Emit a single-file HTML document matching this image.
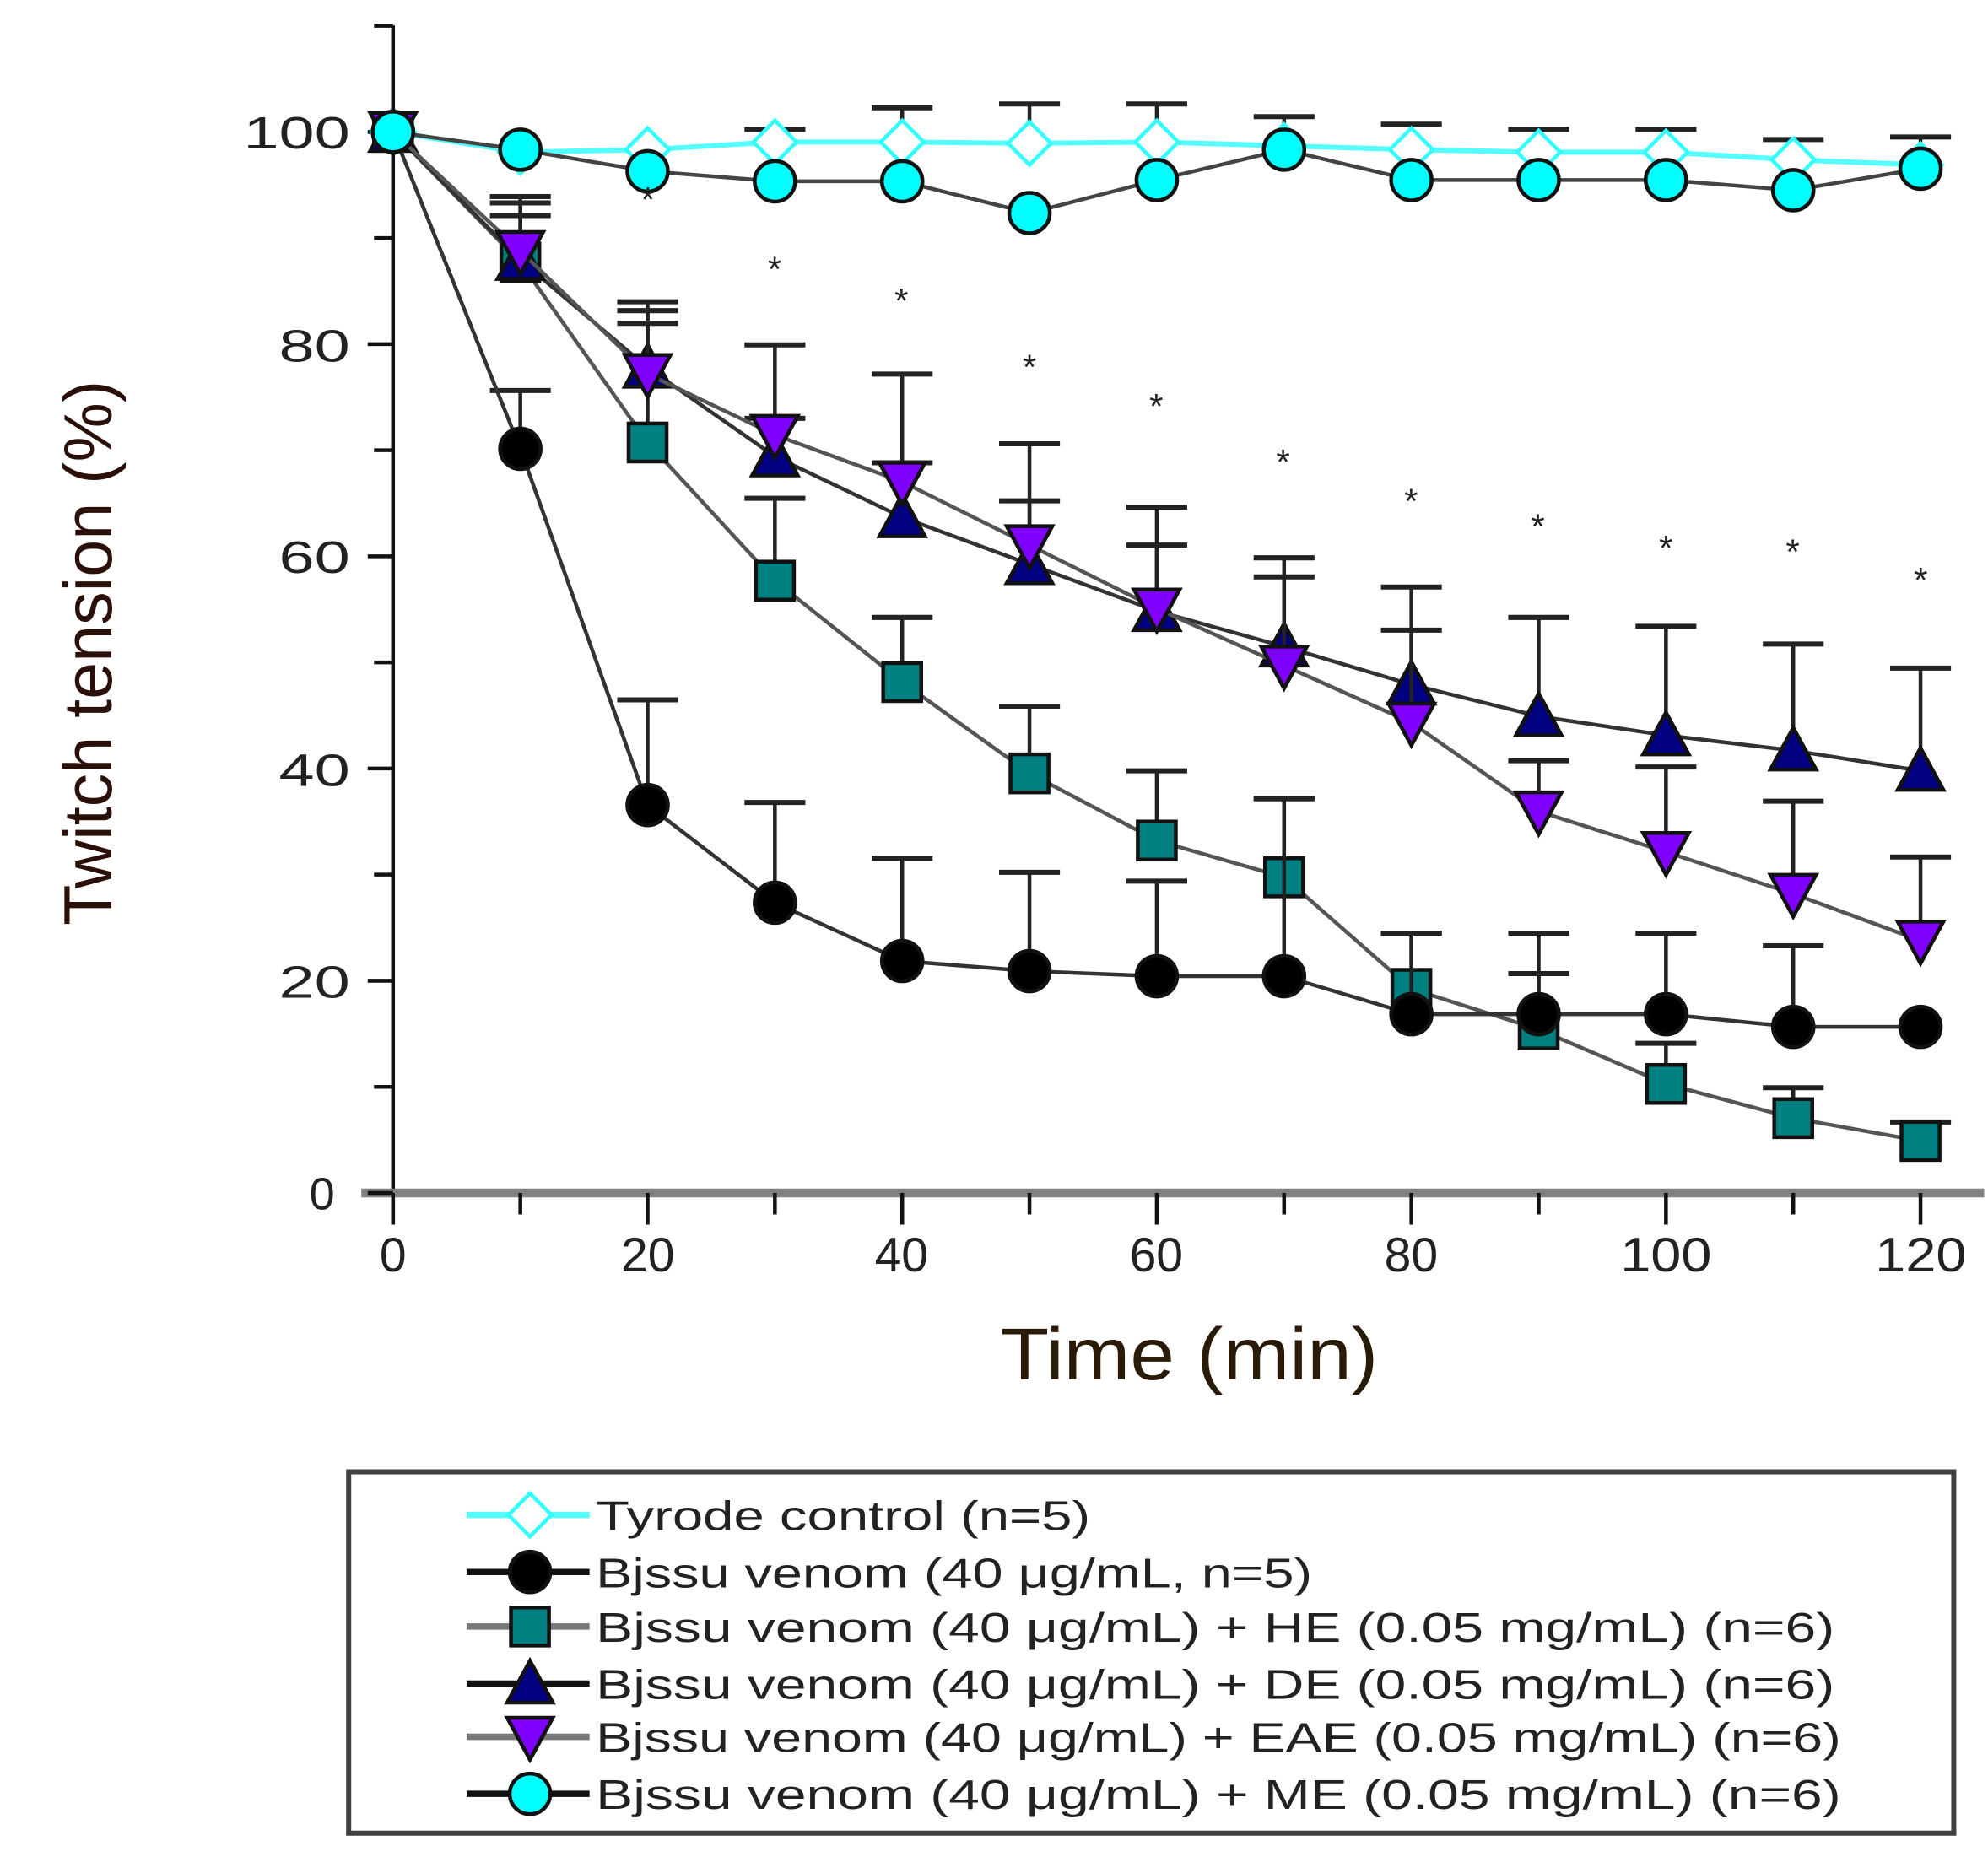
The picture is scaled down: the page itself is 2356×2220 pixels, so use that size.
<!DOCTYPE html>
<html><head><meta charset="utf-8"><style>html,body{margin:0;padding:0;background:#fff}svg{display:block}</style></head>
<body>
<svg id="s" xmlns="http://www.w3.org/2000/svg" width="2356" height="2220" viewBox="0 0 1568 1477.4" font-family="Liberation Sans, Arial, sans-serif">
<rect width="1568" height="1478" fill="#fff"/>
<line x1="310" y1="20" x2="310" y2="966" stroke="#111" stroke-width="3"/>
<line x1="285" y1="941" x2="1565" y2="941" stroke="#808080" stroke-width="7"/>
<g stroke="#111" stroke-width="3" id="ticks"></g>
<g font-size="36" fill="#222" text-anchor="end">
<text x="276" y="117" textLength="84" lengthAdjust="spacingAndGlyphs">100</text><text x="276" y="285" textLength="56" lengthAdjust="spacingAndGlyphs">80</text><text x="276" y="452" textLength="56" lengthAdjust="spacingAndGlyphs">60</text><text x="276" y="620" textLength="56" lengthAdjust="spacingAndGlyphs">40</text><text x="276" y="787" textLength="56" lengthAdjust="spacingAndGlyphs">20</text><text x="264" y="954">0</text>
</g>
<g font-size="38" fill="#222" text-anchor="middle">
<text x="310" y="1003">0</text><text x="511" y="1003">20</text><text x="711" y="1003">40</text><text x="912" y="1003">60</text><text x="1113" y="1003">80</text><text x="1314" y="1003" textLength="72" lengthAdjust="spacingAndGlyphs">100</text><text x="1515" y="1003" textLength="72" lengthAdjust="spacingAndGlyphs">120</text>
</g>
<text x="938" y="1088" font-size="58" fill="#2a1a08" text-anchor="middle" textLength="298" lengthAdjust="spacingAndGlyphs">Time (min)</text>
<text transform="translate(88,515) rotate(-90)" font-size="54" fill="#2a1008" text-anchor="middle" textLength="430" lengthAdjust="spacingAndGlyphs">Twitch tension (%)</text>
<g id="plot"></g>
<g font-size="28" fill="#222" text-anchor="middle">
<text x="511" y="167">*</text><text x="611" y="222">*</text><text x="711" y="247">*</text><text x="812" y="299">*</text><text x="912" y="330">*</text><text x="1012" y="374">*</text><text x="1113" y="405">*</text><text x="1213" y="425">*</text><text x="1314" y="442">*</text><text x="1414" y="445">*</text><text x="1515" y="467">*</text>
</g>
<rect x="275" y="1161" width="1266" height="285" fill="none" stroke="#404040" stroke-width="4"/>
<g id="leg"></g>
<g font-size="33" fill="#222">
<text x="470" y="1207" textLength="390" lengthAdjust="spacingAndGlyphs">Tyrode control (n=5)</text>
<text x="470" y="1252" textLength="565" lengthAdjust="spacingAndGlyphs">Bjssu venom (40 μg/mL, n=5)</text>
<text x="470" y="1295" textLength="977" lengthAdjust="spacingAndGlyphs">Bjssu venom (40 μg/mL) + HE   (0.05 mg/mL) (n=6)</text>
<text x="470" y="1340" textLength="977" lengthAdjust="spacingAndGlyphs">Bjssu venom (40 μg/mL) + DE   (0.05 mg/mL) (n=6)</text>
<text x="470" y="1382" textLength="982" lengthAdjust="spacingAndGlyphs">Bjssu venom (40 μg/mL) + EAE (0.05 mg/mL) (n=6)</text>
<text x="470" y="1427" textLength="982" lengthAdjust="spacingAndGlyphs">Bjssu venom (40 μg/mL) + ME   (0.05 mg/mL) (n=6)</text>
</g>
</svg>
<script>
var NS="http://www.w3.org/2000/svg";
function el(p,t,a){var e=document.createElementNS(NS,t);for(var k in a)e.setAttribute(k,a[k]);p.appendChild(e);return e;}
var tk=document.getElementById('ticks'),pl=document.getElementById('plot'),lg=document.getElementById('leg');
function X(t){return 310+t*10.04;}
for(var i=0;i<=11;i++){var y=941-i*83.7;el(tk,'line',{x1:i%2?295:290,y1:y,x2:310,y2:y});}
for(var t=0;t<=120;t+=10){el(tk,'line',{x1:X(t),y1:941,x2:X(t),y2:t%20?958:966});}
var T=[0,10,20,30,40,50,60,70,80,90,100,110,120];
var S=[
 {y:[104,120,118,112,112,113,112,115,118,120,120,126,130],e:[null,null,null,102,85,82,82,92,98,102,102,110,108],m:'di',f:'#fff',lc:'#5ff'},
 {y:[104,207,349,458,538,610,663,692,780,812,855,882,900],e:[null,160,245,393,487,557,608,630,736,768,823,858,885],m:'sq',f:'#008080',lc:'#555'},
 {y:[104,205,290,360,408,445,482,510,540,565,580,592,608],e:[null,155,238,272,295,350,400,440,463,487,494,508,527],m:'up',f:'#000080',lc:'#333'},
 {y:[104,198,295,343,380,430,480,525,570,640,672,705,742],e:[null,170,255,330,365,395,430,455,497,600,605,632,676],m:'dn',f:'#7f00ff',lc:'#555'},
 {y:[104,354,635,712,758,766,770,770,800,800,800,810,810],e:[null,308,552,633,677,688,695,630,736,736,736,746,null],m:'ci',f:'#000',lc:'#333'},
 {y:[104,118,135,143,143,168,142,118,142,142,142,150,133],e:[null,null,null,null,null,null,null,null,null,null,null,null,null],m:'ci',f:'#00ffff',lc:'#444'}
];
function mk(g,m,x,y,f){
 var st={fill:f,stroke:m=='di'?'#3ff':'#111','stroke-width':3};
 if(m=='sq')el(g,'rect',Object.assign({x:x-15,y:y-15,width:30,height:30},st));
 else if(m=='ci')el(g,'circle',Object.assign({cx:x,cy:y,r:16},st));
 else if(m=='up')el(g,'polygon',Object.assign({points:(x-18)+','+(y+15)+' '+(x+18)+','+(y+15)+' '+x+','+(y-18)},st));
 else if(m=='dn')el(g,'polygon',Object.assign({points:(x-18)+','+(y-15)+' '+(x+18)+','+(y-15)+' '+x+','+(y+18)},st));
 else el(g,'polygon',Object.assign({points:x+','+(y-17)+' '+(x+17)+','+y+' '+x+','+(y+17)+' '+(x-17)+','+y},st));
}
S.forEach(function(s){
 var g=el(pl,'g',{});
 s.e.forEach(function(e,i){if(e!=null){var x=X(T[i]);el(g,'line',{x1:x,y1:s.y[i],x2:x,y2:e,stroke:'#222','stroke-width':3});el(g,'line',{x1:x-24,y1:e,x2:x+24,y2:e,stroke:'#222','stroke-width':4});}});
 var pts=T.map(function(t,i){return X(t)+','+s.y[i];}).join(' ');
 el(g,'polyline',{points:pts,fill:'none',stroke:s.lc,'stroke-width':s.m=='di'?4:3});
 T.forEach(function(t,i){mk(g,s.m,X(t),s.y[i],s.f);});
});
var L=[['di','#fff','#5ff',1195],['ci','#000','#111',1240],['sq','#008080','#777',1283],['up','#000080','#111',1328],['dn','#7f00ff','#777',1370],['ci','#00ffff','#111',1415]];
L.forEach(function(l){el(lg,'line',{x1:368,y1:l[3],x2:465,y2:l[3],stroke:l[2],'stroke-width':5});mk(lg,l[0],418,l[3],l[1]);});
</script>
</body></html>
